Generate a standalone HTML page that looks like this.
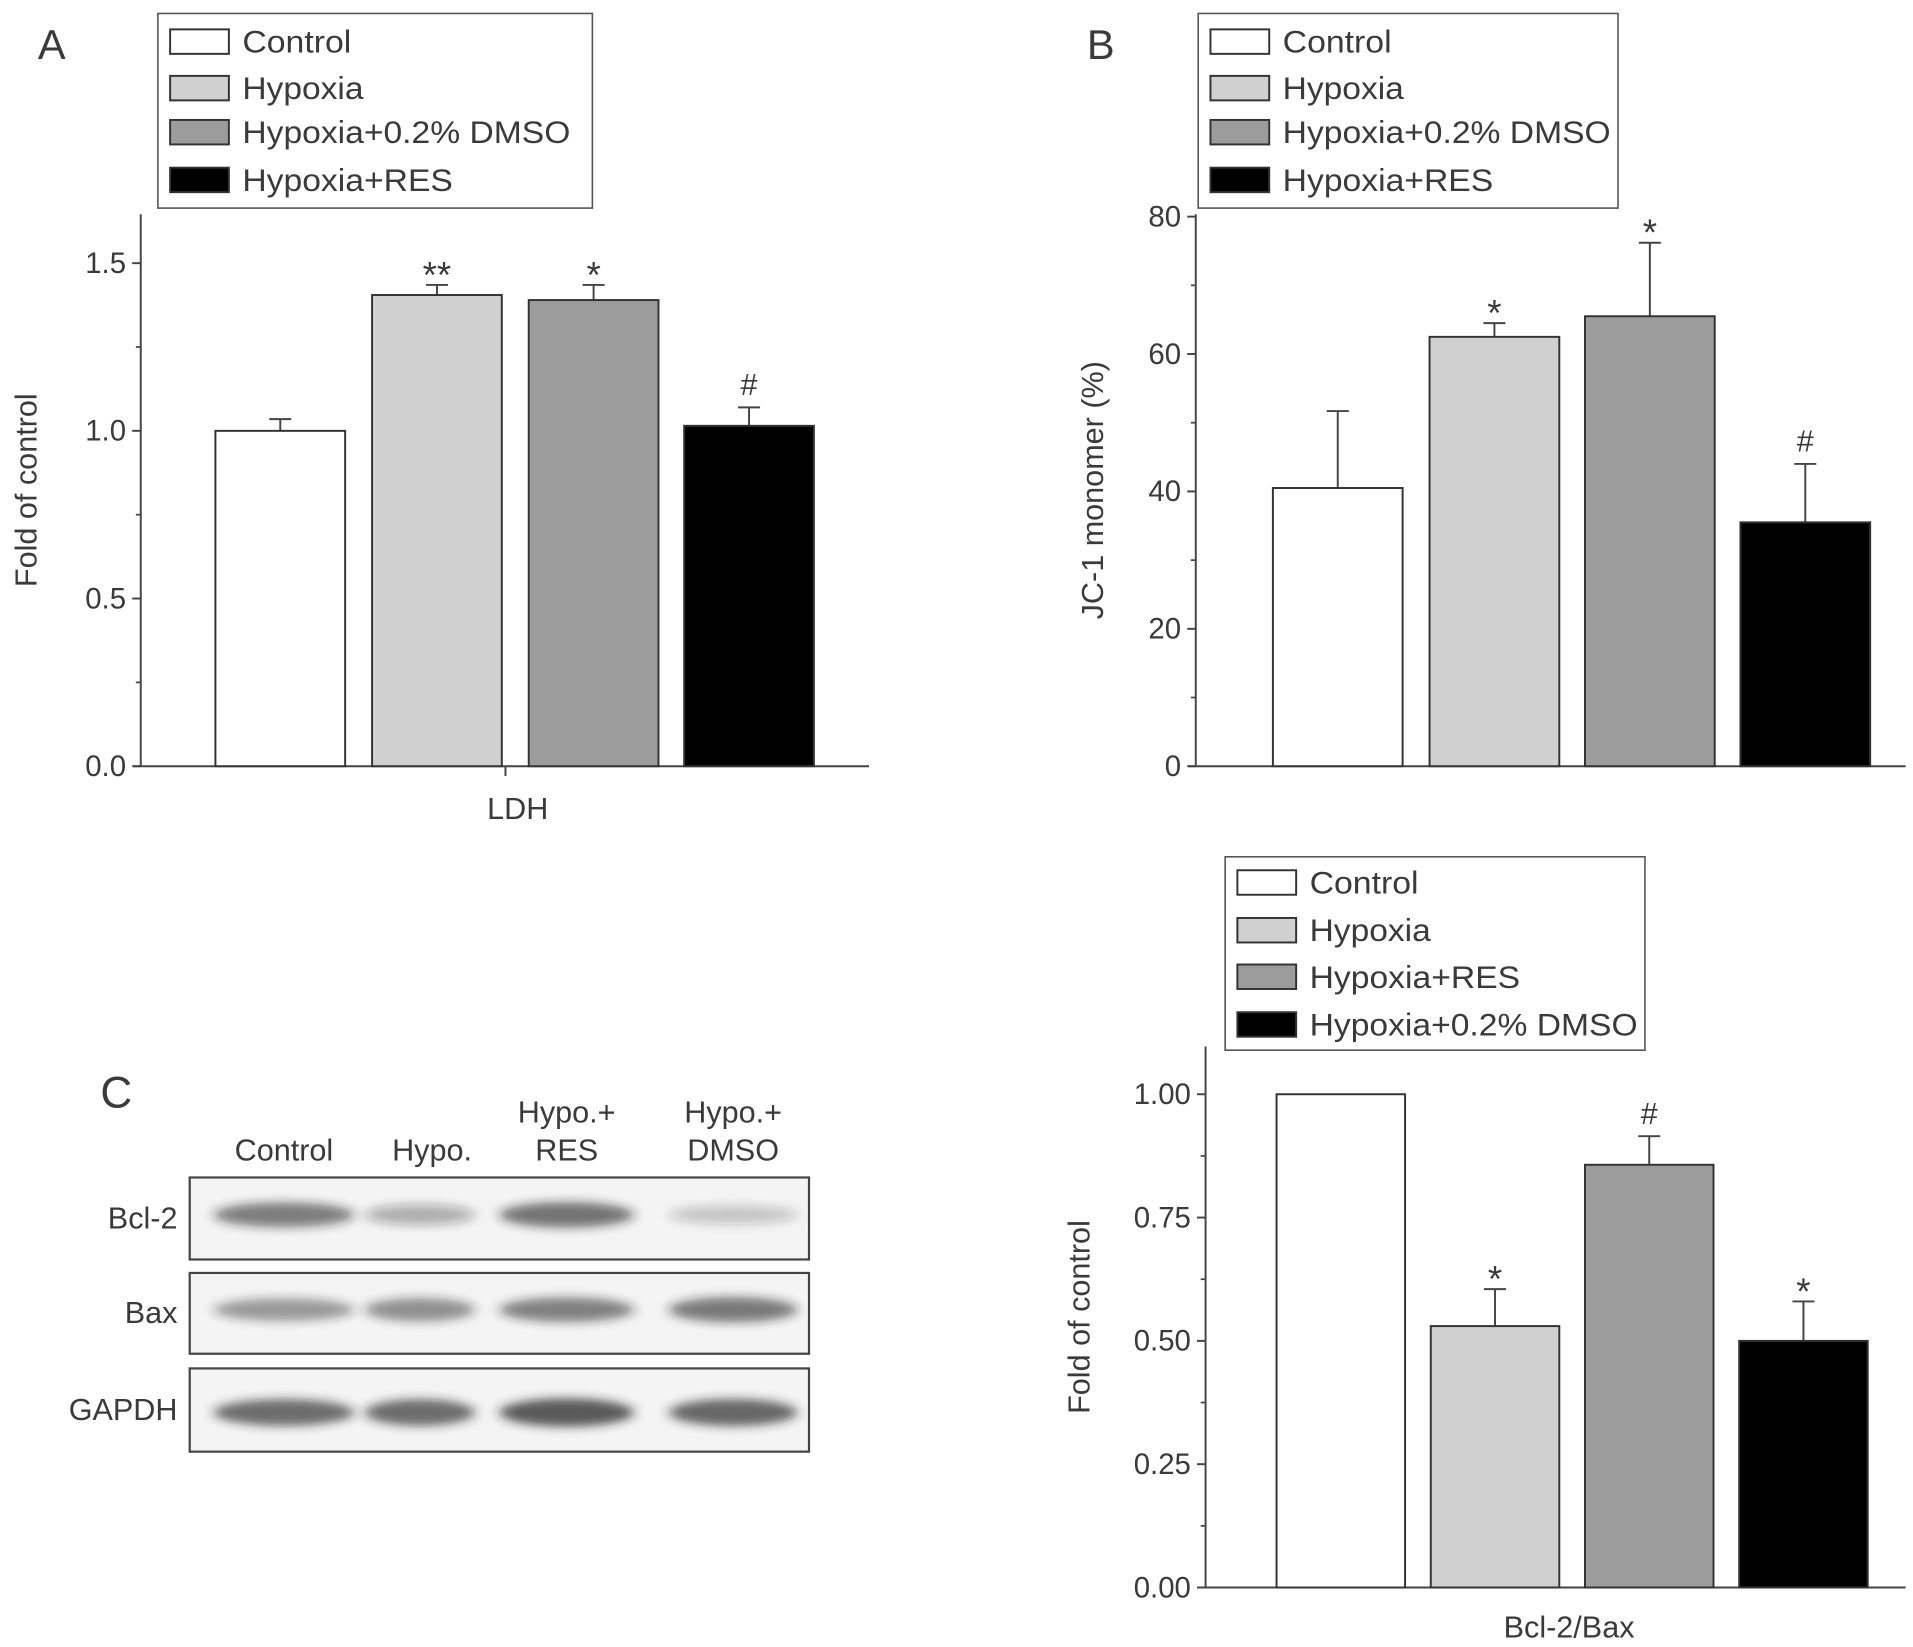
<!DOCTYPE html>
<html><head><meta charset="utf-8">
<style>
html,body{margin:0;padding:0;background:#fff;}
svg{display:block;}
text{font-family:"Liberation Sans",sans-serif;fill:#3a3a3a;}
</style></head>
<body>
<svg id="fig" width="1913" height="1647" viewBox="0 0 1563 1345.6" preserveAspectRatio="none" xmlns="http://www.w3.org/2000/svg">
<defs>
<filter id="blur" x="-20%" y="-100%" width="140%" height="300%"><feGaussianBlur stdDeviation="5 4"/></filter>
</defs>
<g id="gA"></g>
<g id="gB"></g>
<g id="gC"></g>
<g id="gD"></g>
</svg>
<script>
// Panel A data
const aCategories = ["Control", "Hypoxia", "Hypoxia+0.2% DMSO", "Hypoxia+RES"];
const aValues = [1.0, 1.405, 1.39, 1.015];
const aErrors = [0.035, 0.03, 0.045, 0.055];
const aMarks = ["", "**", "*", "#"];
const aTicks = ["0.0", "0.5", "1.0", "1.5"];
// Panel B data
const bCategories = ["Control", "Hypoxia", "Hypoxia+0.2% DMSO", "Hypoxia+RES"];
const bValues = [40.5, 62.5, 65.5, 35.5];
const bErrors = [11.2, 2.0, 10.7, 8.5];
const bMarks = ["", "*", "*", "#"];
const bTicks = ["0", "20", "40", "60", "80"];
// Panel D data
const dCategories = ["Control", "Hypoxia", "Hypoxia+RES", "Hypoxia+0.2% DMSO"];
const dValues = [1.0, 0.53, 0.857, 0.5];
const dErrors = [0, 0.075, 0.058, 0.08];
const dMarks = ["", "*", "#", "*"];
const dTicks = ["0.00", "0.25", "0.50", "0.75", "1.00"];
// Blot band intensities (0-1) per row, lanes Control, Hypo., Hypo.+RES, Hypo.+DMSO
const blotRows = ["Bcl-2", "Bax", "GAPDH"];
const bcl2Band = [0.7, 0.4, 0.75, 0.28];
const baxBand = [0.55, 0.6, 0.68, 0.72];
const gapdhBand = [0.82, 0.82, 0.92, 0.85];

const NS = "http://www.w3.org/2000/svg";
function mk(parent, tag, attrs, txt){
  const e = document.createElementNS(NS, tag);
  for (const k in attrs) e.setAttribute(k, attrs[k]);
  if (txt !== undefined) e.textContent = txt;
  parent.appendChild(e);
  return e;
}
const AX = "#444";

function drawPanel(g, cfg){
  const {x0, x1, yTop, yBot, vmin, vmax, ticks, minor, cats, vals, errs, marks, colors, barX, barW, ylabel, ylabelX, xlabel, xlabelX, xlabelY, xtick, letter, letterX, letterY, legend} = cfg;
  const yTop0 = cfg.yScaleTop;
  const y = v => yBot - (v - vmin) / (vmax - vmin) * (yBot - yTop0);
  const l1 = mk(g, "line", {x1:x0, y1:yTop, x2:x0, y2:yBot, stroke:AX, "stroke-width":1.6});
  
  
  const l2 = mk(g, "line", {x1:x0-6, y1:yBot, x2:x1, y2:yBot, stroke:AX, "stroke-width":1.6});
  
  
  const step = (vmax - vmin) / (ticks.length - 1);
  ticks.forEach((t, i) => {
    const v = vmin + i * step;
    const tk = mk(g, "line", {x1:x0-7, y1:y(v), x2:x0, y2:y(v), stroke:AX, "stroke-width":1.6});
    
    
    const tl = mk(g, "text", {x:x0-12, y:y(v)+8, "text-anchor":"end", "font-size":24, fill:"#555"}, t);
    
    
    const mv = v + step / 2;
    if (y(mv) > yTop) {
      const m = mk(g, "line", {x1:x0-4, y1:y(mv), x2:x0, y2:y(mv), stroke:AX, "stroke-width":1.4});
      
      
    }
  });
  if (xtick) {
    const xt = mk(g, "line", {x1:xtick, y1:yBot, x2:xtick, y2:yBot+8, stroke:AX, "stroke-width":1.6});
    
    
  }
  const yl = mk(g, "text", {x:ylabelX, y:(yTop+yBot)/2, "text-anchor":"middle", "font-size":25, fill:"#555", transform:`rotate(-90 ${ylabelX} ${(yTop+yBot)/2})`}, ylabel);
  
  
  if (xlabel) {
    const xl = mk(g, "text", {x:xlabelX, y:xlabelY, "text-anchor":"middle", "font-size":25, fill:"#555"}, xlabel);
    
    
  }
  cats.forEach((c, i) => {
    const bx = barX[i];
    const top = y(vals[i]);
    if (errs[i] > 0) {
      const ey = y(vals[i] + errs[i]);
      const e1 = mk(g, "line", {x1:bx+barW/2, y1:top, x2:bx+barW/2, y2:ey, stroke:AX, "stroke-width":1.6});
      
      
      const e2 = mk(g, "line", {x1:bx+barW/2-9, y1:ey, x2:bx+barW/2+9, y2:ey, stroke:AX, "stroke-width":1.6});
      
      
    }
    const r = mk(g, "rect", {x:bx, y:top, width:barW, height:yBot-top, fill:colors[i], stroke:"#333", "stroke-width":1.6});
    
    
    if (marks[i]) {
      const my = y(vals[i] + errs[i]) - 10;
      const isHash = marks[i] === "#";
      const m = mk(g, "text", {x:bx+barW/2, y:isHash ? my : my + 12, "text-anchor":"middle", "font-size":isHash ? 25 : 30, fill:"#777"}, marks[i]);
      
      
    }
  });
  if (letter) {
    const lt = mk(g, "text", {x:letterX, y:letterY, "font-size":34, fill:"#222"}, letter);
    
    
  }
  const lg = mk(g, "g", {});
  
  
  const lb = mk(lg, "rect", {x:legend.x, y:legend.y, width:legend.w, height:legend.h, fill:"#fff", stroke:"#555", "stroke-width":1.3});
  
  
  cats.forEach((c, i) => {
    const ry = legend.rows[i];
    const sw = mk(lg, "rect", {x:legend.x+10, y:ry-10, width:48, height:20, fill:colors[i], stroke:"#333", "stroke-width":1.6});
    
    
    const tx = mk(lg, "text", {x:legend.x+69, y:ry+9, "font-size":26, textLength:legend.tl[i], lengthAdjust:"spacingAndGlyphs"}, c);
    
    
  });
}

const cols4 = ["#ffffff", "#d0d0d0", "#9c9c9c", "#000000"];

drawPanel(document.getElementById("gA"), {
  x0:115, x1:710, yTop:175, yBot:626, yScaleTop:215, vmin:0, vmax:1.5, ticks:aTicks,
  cats:aCategories, vals:aValues, errs:aErrors, marks:aMarks, colors:cols4,
  barX:[176, 304, 432, 559], barW:106, ylabel:"Fold of control", ylabelX:30,
  xlabel:"LDH", xlabelX:423, xlabelY:669, xtick:413, letter:"A", letterX:31, letterY:48,
  legend:{x:129, y:11, w:355, h:159, rows:[34, 72, 108, 147], tl:[89, 99, 268, 172]}
});
drawPanel(document.getElementById("gB"), {
  x0:977, x1:1557, yTop:175, yBot:626, yScaleTop:177, vmin:0, vmax:80, ticks:bTicks,
  cats:bCategories, vals:bValues, errs:bErrors, marks:bMarks, colors:cols4,
  barX:[1040, 1168, 1295, 1422], barW:106, ylabel:"JC-1 monomer (%)", ylabelX:901,
  xlabel:"", letter:"B", letterX:888, letterY:48,
  legend:{x:979, y:11, w:343, h:159, rows:[34, 72, 108, 147], tl:[89, 99, 268, 172]}
});
drawPanel(document.getElementById("gD"), {
  x0:985, x1:1557, yTop:855, yBot:1297, yScaleTop:894, vmin:0, vmax:1.0, ticks:dTicks,
  cats:dCategories, vals:dValues, errs:dErrors, marks:dMarks, colors:cols4,
  barX:[1043, 1169, 1295, 1421], barW:105, ylabel:"Fold of control", ylabelX:890,
  xlabel:"Bcl-2/Bax", xlabelX:1282, xlabelY:1338, letter:"", letterX:0, letterY:0,
  legend:{x:1001, y:700, w:343, h:158, rows:[721, 760, 798, 837], tl:[89, 99, 172, 268]}
});

// Panel C western blot
(function(){
  const g = document.getElementById("gC");
  const c = mk(g, "text", {x:82, y:905, "font-size":36, fill:"#222"}, "C");
  
  
  const laneX = [232, 353, 463, 599];
  const laneW = [115, 90, 110, 105];
  const lanes = [["Control"], ["Hypo."], ["Hypo.+", "RES"], ["Hypo.+", "DMSO"]];
  lanes.forEach((l, i) => {
    l.forEach((t, j) => {
      const ty = l.length === 2 ? 917 + j * 31 : 948;
      const tx = mk(g, "text", {x:laneX[i], y:ty, "text-anchor":"middle", "font-size":25, fill:"#555"}, t);
      
      
    });
  });
  const boxes = [[962, 1029], [1040, 1106], [1118, 1186]];
  const bands = [bcl2Band, baxBand, gapdhBand];
  blotRows.forEach((name, r) => {
    const [y0, y1] = boxes[r];
    const bx = mk(g, "rect", {x:155, y:y0, width:506, height:y1-y0, fill:"#f4f4f4", stroke:"#444", "stroke-width":1.8});
    
    
    const cy = (y0 + y1) / 2 - 3 + (r === 2 ? 5 : 0);
    bands[r].forEach((v, i) => {
      const e = mk(g, "ellipse", {cx:laneX[i] + (i===1 ? -10 : 0), cy:cy, rx:laneW[i]/2, ry:6 + v*6, fill:"#222", "fill-opacity":v*0.8, filter:"url(#blur)"});
      
      
    });
    const lab = mk(g, "text", {x:145, y:(y0+y1)/2 + 8, "text-anchor":"end", "font-size":25, fill:"#555"}, name);
    
    
  });
})();
</script>
</body></html>
